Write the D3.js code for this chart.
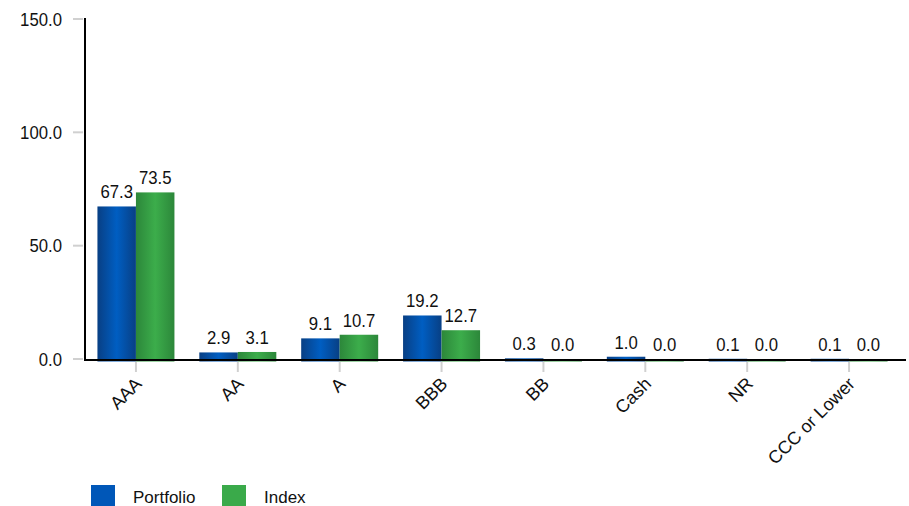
<!DOCTYPE html>
<html><head><meta charset="utf-8">
<script src="https://cdn.jsdelivr.net/npm/d3@7/dist/d3.min.js"></script>
<style>body{margin:0;background:#fff;}svg{display:block;font-family:"Liberation Sans",Arial,sans-serif;}</style>
</head><body><svg id="c" width="909" height="506"></svg>
<script>
const categories = ["AAA","AA","A","BBB","BB","Cash","NR","CCC or Lower"];
const seriesNames = ["Portfolio","Index"];
const portfolio = [67.3,2.9,9.1,19.2,0.3,1.0,0.1,0.1];
const indexVals = [73.5,3.1,10.7,12.7,0.0,0.0,0.0,0.0];
const yTicks = [0,50,100,150];

const svg = d3.select("#c");
const y = d3.scaleLinear().domain([0,150]).range([359,19]);
const x = d3.scaleBand().domain(categories).range([85,900]).padding(0);
const groupW = 77;
const x1 = d3.scaleBand().domain(seriesNames).range([0,groupW]).padding(0);
const off = (x.bandwidth()-groupW)/2;
const SX = 0.93;

const defs = svg.append("defs");
function grad(id, edge, mid){
  const g = defs.append("linearGradient").attr("id",id).attr("x1","0%").attr("x2","100%").attr("y1","0%").attr("y2","0%");
  g.append("stop").attr("offset","0%").attr("stop-color",edge);
  g.append("stop").attr("offset","50%").attr("stop-color",mid);
  g.append("stop").attr("offset","100%").attr("stop-color",edge);
}
grad("gP","#083f84","#005ec2");
grad("gI","#2c873a","#3cad4b");
const fills = {"Portfolio":"url(#gP)","Index":"url(#gI)"};
const legendCol = {"Portfolio":"#0057b8","Index":"#3aaa4a"};

// y axis ticks (gray marks)
svg.append("g").selectAll("line").data(yTicks).join("line")
  .attr("x1",73).attr("x2",83).attr("y1",d=>y(d)).attr("y2",d=>y(d))
  .attr("stroke","#d0d0d0").attr("stroke-width",2);
svg.append("g").selectAll("text").data(yTicks).join("text")
  .attr("transform",d=>`translate(62,${y(d)+6.5}) scale(${SX},1)`).attr("text-anchor","end")
  .attr("font-size",18).attr("fill","#111").text(d=>d.toFixed(1));

// bottom ticks
svg.append("g").selectAll("line").data(categories).join("line")
  .attr("x1",d=>x(d)+x.bandwidth()/2).attr("x2",d=>x(d)+x.bandwidth()/2)
  .attr("y1",362).attr("y2",372).attr("stroke","#d0d0d0").attr("stroke-width",2);

const data = categories.map((c,i)=>({cat:c, vals:[{s:"Portfolio",v:portfolio[i]},{s:"Index",v:indexVals[i]}]}));
const grp = svg.append("g").selectAll("g").data(data).join("g")
  .attr("transform",d=>`translate(${x(d.cat)+off},0)`);
grp.selectAll("rect").data(d=>d.vals).join("rect")
  .attr("x",d=>x1(d.s)).attr("width",x1.bandwidth())
  .attr("y",d=>y(d.v)).attr("height",d=>y(0)-y(d.v)+2.5)
  .attr("fill",d=>fills[d.s]);
grp.selectAll("text").data(d=>d.vals).join("text")
  .attr("transform",d=>`translate(${x1(d.s)+x1.bandwidth()/2},${y(d.v)-8}) scale(${SX},1)`)
  .attr("text-anchor","middle").attr("font-size",18).attr("fill","#111")
  .text(d=>d.v.toFixed(1));

// axes lines
svg.append("line").attr("x1",85).attr("x2",85).attr("y1",18).attr("y2",361).attr("stroke","#000").attr("stroke-width",2);
svg.append("line").attr("x1",84).attr("x2",906).attr("y1",360).attr("y2",360).attr("stroke","#000").attr("stroke-width",2);

// category labels
svg.append("g").selectAll("text").data(categories).join("text")
  .attr("transform",d=>`translate(${x(d)+x.bandwidth()/2-2},376) rotate(-45)`)
  .attr("text-anchor","end").attr("dy","0.7em").attr("font-size",18).attr("fill","#111").text(d=>d);

// legend
const lg = svg.append("g");
const lx = [91,222];
seriesNames.forEach((s,i)=>{
  lg.append("rect").attr("x",lx[i]).attr("y",485).attr("width",24).attr("height",22).attr("fill",legendCol[s]);
  lg.append("text").attr("x",lx[i]+42).attr("y",503).attr("font-size",17).attr("fill","#111").text(s);
});
</script></body></html>
